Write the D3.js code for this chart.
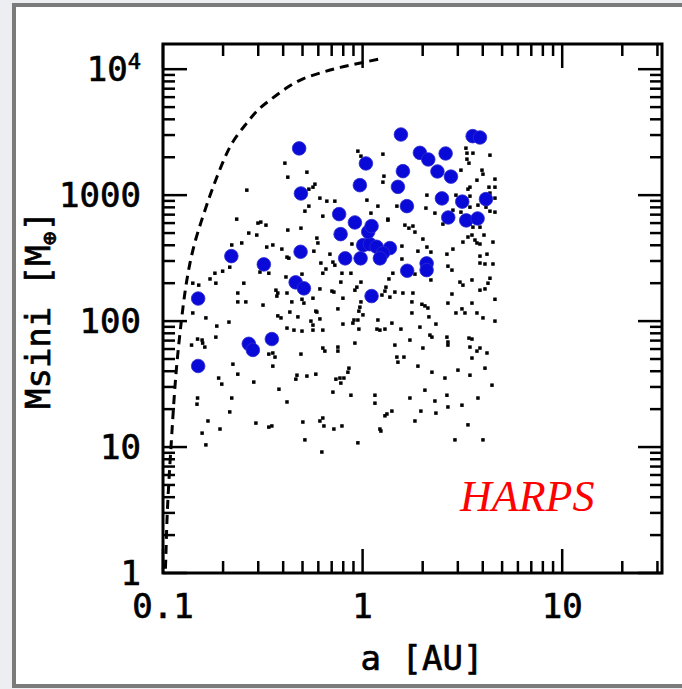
<!DOCTYPE html>
<html><head><meta charset="utf-8">
<script src="https://cdn.jsdelivr.net/npm/d3@7/dist/d3.min.js"></script>
<style>html,body{margin:0;padding:0;background:#eceef1;}svg{display:block;}</style>
</head><body>
<svg id="chart" width="682" height="689"></svg>
<script>
// ---------- data ----------
const xMajorTicks = [0.1, 1, 10];
const xMajorLabels = ["0.1", "1", "10"];
const xMinorTicks = [0.2,0.3,0.4,0.5,0.6,0.7,0.8,0.9,2,3,4,5,6,7,8,9,20,30];
const yMajorTicks = [1, 10, 100, 1000, 10000];
const yMajorLabels = ["1", "10", "100", "1000", "10"];
const yMinorTicks = [2,3,4,5,6,7,8,9,20,30,40,50,60,70,80,90,200,300,400,500,600,700,800,900,2000,3000,4000,5000,6000,7000,8000,9000];

// HARPS planets (blue circles): semi-major axis [AU], Msini [M_earth]
const harpsA = [0.150,0.150,0.220,0.320,0.269,0.282,0.351,0.489,0.462,0.508,0.776,0.818,0.977,1.007,1.088,1.175,1.370,1.264,1.221,1.067,1.109,1.109,0.481,0.491,1.039,0.969,1.556,1.592,1.503,0.763,0.915,1.667,1.937,2.133,2.606,2.371,2.771,2.497,3.157,4.150,2.686,3.305,3.768,3.559,3.872,1.673,2.093,2.093];
const harpsM = [151,44,328,282,66,59,72,355,203,182,490,315,315,401,408,389,380,346,315,511,568,158,2350,1031,1785,1200,3030,1550,1164,707,607,818,2167,1920,2142,1542,1403,942,888,930,665,630,653,2940,2870,251,287,254];

// simulated population (small black dots)
const simA = [0.947,0.981,1.264,0.408,0.422,0.526,0.577,0.564,1.279,1.264,0.263,0.538,0.611,0.662,0.726,1.051,1.193,1.485,0.538,0.514,0.632,1.101,1.339,0.234,0.299,0.309,0.328,0.491,0.422,0.269,0.295,0.590,0.221,0.248,0.597,0.355,0.394,0.331,0.418,0.427,0.570,0.686,0.710,0.726,0.618,0.884,0.216,0.199,0.182,0.172,0.184,0.306,0.339,0.497,0.413,0.632,0.655,0.788,0.874,0.778,0.981,1.355,0.254,0.368,0.376,0.372,0.418,0.497,0.564,0.611,0.702,0.718,0.936,0.915,0.797,0.981,1.294,1.250,0.141,0.151,0.237,0.237,0.260,0.317,0.442,0.508,0.583,0.590,0.752,0.969,0.958,0.141,0.164,0.214,0.376,0.390,0.432,0.474,0.551,0.564,0.611,0.797,0.894,0.905,0.947,0.958,1.004,1.193,1.180,1.221,1.294,1.451,0.418,0.453,0.497,0.564,0.632,0.157,0.158,0.149,0.139,0.162,0.186,0.184,0.632,0.647,0.752,0.752,0.915,0.339,0.355,0.364,0.491,1.485,1.503,0.224,0.237,0.355,0.190,0.197,0.285,0.381,0.469,0.463,0.526,0.583,0.735,0.770,0.806,0.778,0.844,0.854,0.710,0.874,1.153,1.153,1.402,1.324,0.149,0.148,0.221,0.418,0.216,0.168,0.193,0.292,0.339,0.351,0.502,0.611,0.632,0.788,1.221,0.157,0.164,0.514,0.640,0.625,0.718,0.947,1.235,1.294,1.829,1.959,2.330,2.303,2.676,3.294,3.333,3.571,3.333,3.411,4.346,3.110,3.964,4.009,3.740,3.450,3.372,4.604,4.297,4.604,4.346,2.100,2.935,3.450,4.604,3.784,2.076,2.303,2.835,3.110,3.450,4.151,4.346,4.604,1.339,1.629,1.706,1.787,2.526,3.450,3.571,3.873,1.829,2.005,3.372,3.531,3.655,3.740,4.056,3.182,3.873,4.499,1.574,2.100,2.199,1.893,2.835,2.645,4.199,3.873,4.499,3.873,4.103,2.676,2.803,1.574,1.418,1.829,2.199,1.309,1.451,1.592,1.787,3.074,3.182,4.346,4.248,4.103,3.531,3.873,2.803,2.676,4.604,1.766,1.370,1.982,2.052,2.124,3.531,3.146,3.257,3.740,4.009,4.604,1.766,2.149,1.402,1.937,2.330,2.935,1.556,2.645,2.174,2.225,1.726,3.411,3.531,2.005,2.676,3.873,2.676,3.450,3.740,3.531,4.199,1.611,1.893,2.225,2.585,3.004,3.450,4.103,4.448,3.784,3.146,2.645,2.052,1.726,3.372,4.009,2.902];
const simM = [2235,2040,2116,1795,1389,1522,1222,1157,1415,1268,1096,1116,947,896,896,913,818,818,818,746,681,720,633,645,600,611,578,547,528,500,482,456,402,417,417,402,373,387,322,316,359,340,294,278,289,409,268,249,240,216,200,245,240,236,224,240,259,240,240,204,204,216,200,176,167,158,167,149,152,180,173,170,186,176,152,142,173,161,200,193,167,142,142,134,142,139,120,118,125,129,120,116,106,98.2,110,106,118,108,100,93.0,104,94.7,96.4,102,102,86.4,112,102,86.4,84.8,86.4,64.5,88.0,84.8,83.3,84.8,84.8,70.7,66.9,72.0,64.5,62.2,91.3,74.6,61.1,57.8,62.2,57.8,66.9,54.7,55.8,51.8,54.7,51.8,47.2,45.5,37.9,43.9,35.3,31.6,32.8,28.8,37.2,34.6,36.6,37.9,34.6,35.3,35.3,32.2,39.3,42.3,27.3,25.8,25.8,22.3,19.3,18.3,24.5,21.9,24.5,22.8,19.0,16.1,13.9,15.5,14.4,14.7,15.8,16.1,17.0,14.7,13.9,12.9,10.4,11.4,14.7,9.13,13.9,10.8,13.4,17.7,16.1,19.3,18.6,23.2,20.8,2361,2155,2155,1931,1795,2077,1579,1579,1468,1315,1157,1116,1340,1157,1157,1038,1000,1000,982,947,833,789,720,760,733,803,803,746,733,645,578,547,568,589,589,557,557,509,448,465,482,440,417,482,424,409,424,394,387,353,359,373,340,340,328,284,289,284,273,254,311,240,236,212,186,170,167,167,204,193,219,200,180,212,176,164,139,149,142,155,136,132,127,139,125,116,116,106,100,116,108,96.4,89.6,94.7,116,86.4,74.6,77.4,74.6,70.7,73.3,72.0,61.1,68.2,61.1,64.5,62.2,57.8,50.9,55.8,51.8,43.9,39.3,35.3,40.8,37.2,42.3,31.0,24.5,21.5,25.8,28.3,24.5,15.0,11.4,11.4];

// dashed limit curve
const limitA = [0.1028,0.1033,0.1045,0.107,0.111,0.116,0.124,0.129,0.136,0.146,0.158,0.172,0.186,0.204,0.224,0.263,0.295,0.343,0.418,0.502,0.632,0.769,0.969,1.264];
const limitM = [1.08,1.27,2.63,5.47,13.6,41,106,176,289,456,669,1000,1390,2000,2730,3730,4730,5680,7200,8490,9470,10370,11160,12230];

// ---------- layout ----------
const svg = d3.select("#chart");
const L = 163, R = 662, T = 44, B = 573;
const x = d3.scaleLog().domain([0.1, Math.pow(10, 1.5)]).range([L, R]);
const y = d3.scaleLog().domain([1, Math.pow(10, 4.2)]).range([B, T]);

// page background & framed panel
svg.append("rect").attr("x",0).attr("y",0).attr("width",682).attr("height",689).attr("fill","#eceef1");
svg.append("rect").attr("x",14).attr("y",5).attr("width",672).attr("height",681)
   .attr("fill","#ffffff").attr("stroke","#7b7b7b").attr("stroke-width",4);

const monoFont = "'DejaVu Sans Mono', monospace";
const MAJ = 24, MIN = 12, TW = 2.5;
const TXT_STROKE = 0.7;

const g = svg.append("g");

// ticks
function tickX(v, len){
  g.append("line").attr("x1",x(v)).attr("x2",x(v)).attr("y1",B).attr("y2",B-len)
   .attr("stroke","#000").attr("stroke-width",TW);
  g.append("line").attr("x1",x(v)).attr("x2",x(v)).attr("y1",T).attr("y2",T+len)
   .attr("stroke","#000").attr("stroke-width",TW);
}
function tickY(v, len){
  g.append("line").attr("x1",L).attr("x2",L+len).attr("y1",y(v)).attr("y2",y(v))
   .attr("stroke","#000").attr("stroke-width",TW);
  g.append("line").attr("x1",R).attr("x2",R-len).attr("y1",y(v)).attr("y2",y(v))
   .attr("stroke","#000").attr("stroke-width",TW);
}
xMajorTicks.forEach(v => tickX(v, MAJ));
xMinorTicks.forEach(v => tickX(v, MIN));
yMajorTicks.forEach(v => tickY(v, MAJ));
yMinorTicks.forEach(v => tickY(v, MIN));

// frame
g.append("rect").attr("x",L).attr("y",T).attr("width",R-L).attr("height",B-T)
 .attr("fill","none").attr("stroke","#000").attr("stroke-width",3);

function styleText(t, size){
  return t.attr("font-family",monoFont).attr("font-size",size).attr("fill","#000")
          .attr("stroke","#000").attr("stroke-width",TXT_STROKE);
}

// tick labels
xMajorTicks.forEach((v,i) => {
  styleText(g.append("text").attr("x",x(v)).attr("y",618).attr("text-anchor","middle"),34)
    .text(xMajorLabels[i]);
});
yMajorTicks.forEach((v,i) => {
  const t = styleText(g.append("text").attr("x",141).attr("y",y(v)+12).attr("text-anchor","end"),34);
  t.append("tspan").text(yMajorLabels[i]);
  if (v === 10000) t.append("tspan").attr("font-size",22).attr("dy",-12).text("4");
});

// axis titles
styleText(g.append("text").attr("x",422).attr("y",670).attr("text-anchor","middle"),34).text("a [AU]");
const yt = styleText(g.append("text").attr("transform","translate(50,310) rotate(-90)").attr("text-anchor","middle"),34);
yt.append("tspan").text("Msini [M");
yt.append("tspan").attr("font-size",23).attr("dy",7).text("\u2295");
yt.append("tspan").attr("dy",-7).text("]");

// dashed curve (smoothed through the read points)
const line = d3.line().x(d => x(d[0])).y(d => y(d[1])).curve(d3.curveBasis);
const curvePts = limitA.map((a,i) => [a, limitM[i]]);
g.append("path").datum(curvePts).attr("d", line).attr("fill","none")
 .attr("stroke","#000").attr("stroke-width",3).attr("stroke-dasharray","9,6");

// simulated dots
g.selectAll("rect.sim").data(simA.map((a,i)=>[a,simM[i]])).enter().append("rect")
 .attr("class","sim").attr("x",d=>x(d[0])-1.75).attr("y",d=>y(d[1])-1.75)
 .attr("width",3.5).attr("height",3.5).attr("fill","#000");

// HARPS planets
g.selectAll("circle.harps").data(harpsA.map((a,i)=>[a,harpsM[i]])).enter().append("circle")
 .attr("class","harps").attr("cx",d=>x(d[0])).attr("cy",d=>y(d[1])).attr("r",6.8)
 .attr("fill","#0a0ad8").attr("stroke","#2b2bd0").attr("stroke-width",0.8);

// label
g.append("text").attr("x",460).attr("y",511).attr("font-family","'Liberation Serif', serif")
 .attr("font-style","italic").attr("font-size",44).attr("fill","#ff0000").text("HARPS");
</script>
</body></html>
